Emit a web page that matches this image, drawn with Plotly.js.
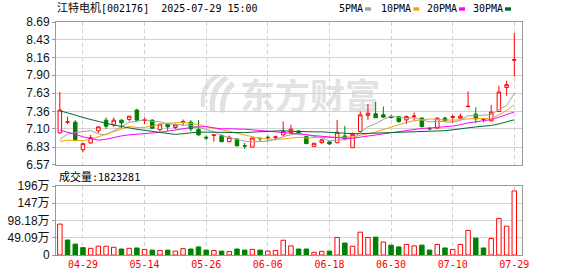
<!DOCTYPE html>
<html><head><meta charset="utf-8">
<script src="https://cdn.plot.ly/plotly-3.0.1.min.js"></script>
<style>html,body{margin:0;padding:0;background:#fff}#chart{width:578px;height:276px}</style>
</head><body><div id="chart"></div>
<script>
// ---------- data ----------
const stockName = '江特电机';
const stockCode = '002176';
const stamp = '2025-07-29 15:00';
const tickLabels = ['04-29','05-14','05-26','06-06','06-18','06-30','07-10','07-29'];
const tickIndex = [3, 11, 19, 27, 35, 43, 51, 59];
const priceTicks = [6.57, 6.83, 7.10, 7.36, 7.63, 7.90, 8.16, 8.43, 8.69];
const volTicks = [0, 49.09, 98.18, 147.27, 196.36];
const volTickText = ['0', '49.09万', '98.18万', '147万', '196万'];
const maPeriods = [5, 10, 20, 30];
const maNames = ['5PMA', '10PMA', '20PMA', '30PMA'];
// closes of the 29 sessions before the window (needed for the moving averages)
const priorClose = [8.02, 8.08, 7.96, 7.90, 8.00, 7.93, 7.98, 7.90, 7.88, 7.85,
  7.70, 7.62, 7.68, 7.55, 7.55, 6.85, 6.62, 6.80, 6.98, 7.10,
  7.05, 6.95, 6.90, 6.80, 6.75, 6.78, 6.85, 6.82, 6.87];
const open = [7.04, 7.20, 7.20, 6.79, 6.89, 7.07, 7.23, 7.16, 7.23, 7.24,
  7.38, 7.225, 7.23, 7.09, 7.17, 7.12, 7.20, 7.20, 7.09, 6.975,
  7.005, 7.00, 6.91, 6.95, 6.85, 6.83, 6.96, 6.975, 6.97, 7.01,
  7.045, 7.07, 6.985, 6.84, 6.895, 6.906, 6.895, 6.995, 6.82, 7.06,
  7.30, 7.324, 7.309, 7.285, 7.28, 7.234, 7.284, 7.26, 7.105, 7.11,
  7.26, 7.27, 7.26, 7.43, 7.319, 7.25, 7.22, 7.358, 7.716, 8.12];
const high = [7.65, 7.28, 7.23, 6.88, 7.01, 7.13, 7.27, 7.27, 7.24, 7.29,
  7.40, 7.27, 7.24, 7.17, 7.18, 7.18, 7.24, 7.23, 7.23, 7.00,
  7.02, 7.02, 7.00, 6.96, 6.89, 6.96, 6.97, 7.00, 7.00, 7.21,
  7.16, 7.08, 6.99, 6.89, 6.95, 6.92, 7.234, 7.145, 7.045, 7.36,
  7.468, 7.50, 7.433, 7.31, 7.29, 7.30, 7.343, 7.27, 7.13, 7.27,
  7.28, 7.31, 7.33, 7.657, 7.423, 7.26, 7.458, 7.742, 7.816, 8.528];
const low = [7.03, 7.17, 6.92, 6.75, 6.88, 7.04, 7.10, 7.13, 7.11, 7.21,
  7.20, 7.17, 7.10, 7.06, 7.07, 7.10, 7.145, 7.06, 7.00, 6.93,
  6.91, 6.90, 6.90, 6.835, 6.80, 6.83, 6.91, 6.92, 6.93, 7.00,
  7.025, 7.03, 6.88, 6.835, 6.88, 6.86, 6.885, 6.93, 6.82, 7.05,
  7.234, 7.265, 7.26, 7.25, 7.19, 7.174, 7.22, 7.12, 7.08, 7.11,
  7.21, 7.19, 7.245, 7.43, 7.185, 7.20, 7.215, 7.35, 7.592, 7.88];
const close = [7.38, 7.205, 6.94, 6.88, 6.97, 7.13, 7.14, 7.23, 7.19, 7.29,
  7.23, 7.235, 7.11, 7.17, 7.13, 7.16, 7.21, 7.10, 7.01, 6.965,
  7.01, 6.91, 6.975, 6.85, 6.845, 6.965, 6.955, 6.97, 6.98, 7.06,
  7.095, 7.036, 6.88, 6.886, 6.936, 6.876, 7.05, 6.95, 7.02, 7.309,
  7.334, 7.265, 7.275, 7.27, 7.209, 7.284, 7.29, 7.134, 7.10, 7.26,
  7.22, 7.28, 7.29, 7.436, 7.249, 7.244, 7.349, 7.648, 7.757, 8.13];
// volume in 万 (10,000) units
const volume = [88, 42.7, 31, 21, 19, 25, 25, 22, 17, 19,
  20, 16, 14, 13, 14, 11, 18, 17, 23, 14,
  13, 11, 10, 17, 14, 16, 14, 11, 13, 42,
  26, 17, 17, 7.6, 10.5, 11, 50, 34, 25, 65,
  50, 51, 37, 28, 23, 30, 26, 28, 14, 30,
  20, 16, 30, 70, 48, 20, 47, 104, 82, 182.3281];

// ---------- styling / layout ----------
const RED = '#ff0000', GREEN = '#008000';
const maColors = ['#a0a0a0', '#f2a30f', '#ff00ff', '#006a30'];
const W = 578, H = 276, L = 56, R = 56, T = 22, B = 21;
const plotW = W - L - R, plotH = H - T - B;
const px = v => (v - L) / plotW;
const py = v => (H - B - v) / plotH;

const idx = close.map((_, i) => i);
const allClose = priorClose.concat(close);
function movingAvg(n) {
  return close.map((_, i) => {
    const end = priorClose.length + i;
    let s = 0;
    for (let k = end - n + 1; k <= end; k++) s += allClose[k];
    return s / n;
  });
}
const prevClose = close.map((c, i) => i === 0 ? priorClose[priorClose.length - 1] : close[i - 1]);
const volUp = close.map((c, i) => c >= prevClose[i]);

const traces = [{
  type: 'candlestick', x: idx, open: open, high: high, low: low, close: close,
  xaxis: 'x', yaxis: 'y', whiskerwidth: 0,
  increasing: {line: {color: RED, width: 1}, fillcolor: '#ffffff'},
  decreasing: {line: {color: GREEN, width: 1}, fillcolor: GREEN},
  hoverinfo: 'skip', showlegend: false
}];
maPeriods.forEach((n, k) => traces.push({
  type: 'scatter', mode: 'lines', x: idx, y: movingAvg(n), xaxis: 'x', yaxis: 'y',
  line: {color: maColors[k], width: 1}, hoverinfo: 'skip', showlegend: false
}));
traces.push({
  type: 'bar', x: idx, y: volume, xaxis: 'x2', yaxis: 'y2', width: 0.58,
  marker: {color: volUp.map(u => u ? '#ffffff' : GREEN),
           line: {color: volUp.map(u => u ? RED : GREEN), width: 1}},
  hoverinfo: 'skip', showlegend: false
});

const gridCol = '#d2d2d2', frameCol = '#999999';
const yFont = {family: 'Liberation Sans, Noto Sans CJK SC', size: 12, color: '#111'};
const xCommon = {
  range: [-0.5, 60], tickmode: 'array', tickvals: tickIndex, ticks: '',
  showgrid: true, gridcolor: gridCol, gridwidth: 1, griddash: '4px,3px',
  showline: true, mirror: true, linecolor: frameCol, linewidth: 1,
  zeroline: false, fixedrange: true
};
const yCommon = {
  tickmode: 'array', ticks: 'outside', ticklen: 3, tickcolor: frameCol,
  showgrid: true, gridcolor: gridCol, gridwidth: 1,
  showline: true, mirror: true, linecolor: frameCol, linewidth: 1,
  zeroline: false, fixedrange: true, tickfont: yFont
};

const legendX = [338, 380, 425.7, 471.7];
const swatchX = [365, 413.3, 459, 505];
const annotations = [{
  xref: 'paper', yref: 'paper', x: px(55), y: py(8), xanchor: 'left', yanchor: 'middle',
  showarrow: false,
  text: '<span style="font-size:11px">' + stockName + '</span>[' + stockCode + ']\u00a0\u00a0' + stamp,
  font: {family: 'DejaVu Sans Mono, Noto Sans CJK SC', size: 10, color: '#000'}
}, {
  xref: 'paper', yref: 'paper', x: px(57), y: py(177), xanchor: 'left', yanchor: 'middle',
  showarrow: false,
  text: '<span style="font-size:11px">成交量</span>:' + Math.round(volume[volume.length - 1] * 10000),
  font: {family: 'DejaVu Sans Mono, Noto Sans CJK SC', size: 10, color: '#000'}
}];
const shapes = [];
maNames.forEach((nm, k) => {
  annotations.push({
    xref: 'paper', yref: 'paper', x: px(legendX[k] - 1), y: py(8.7), xanchor: 'left', yanchor: 'middle',
    showarrow: false, text: nm, font: {family: 'DejaVu Sans Mono', size: 10, color: '#000'}
  });
  shapes.push({
    type: 'rect', xref: 'paper', yref: 'paper', x0: px(swatchX[k]), x1: px(swatchX[k] + 6),
    y0: py(10.7), y1: py(7.3), fillcolor: maColors[k], line: {width: 0}
  });
});

const wmSvg = '<svg xmlns="http://www.w3.org/2000/svg" width="190" height="46" viewBox="0 0 190 46">' +
  '<g fill="#e2e2e5">' +
  '<path d="M22,3 C10,8 4,20 6,36 L10,36 C9,22 14,11 26,5 Z"/>' +
  '<path d="M30,5 C18,12 13,24 15,40 L20,40 C19,26 23,15 34,8 Z"/>' +
  '<path d="M37,10 C28,17 24,28 25,42 L30,41 C30,29 33,20 40,15 Z"/>' +
  '</g>' +
  '<text x="45" y="38" font-family="Noto Sans CJK SC" font-weight="700" font-size="35" fill="#e2e2e5">东方财富</text>' +
  '</svg>';

const layout = {
  width: W, height: H, margin: {l: L, r: R, t: T, b: B, pad: 0},
  paper_bgcolor: '#ffffff', plot_bgcolor: 'rgba(0,0,0,0)',
  showlegend: false, hovermode: false, dragmode: false, boxgap: 0.35,
  xaxis: Object.assign({}, xCommon, {anchor: 'y', showticklabels: false, rangeslider: {visible: false}}),
  xaxis2: Object.assign({}, xCommon, {anchor: 'y2', ticktext: tickLabels, showticklabels: true,
    tickfont: {family: 'DejaVu Sans Mono', size: 10, color: RED}}),
  yaxis: Object.assign({}, yCommon, {domain: [py(164.5), 1], anchor: 'x', range: [6.57, 8.69],
    tickvals: priceTicks, ticktext: priceTicks.map(v => v.toFixed(2))}),
  yaxis2: Object.assign({}, yCommon, {domain: [0, py(186)], anchor: 'x2', range: [0, 196.36],
    tickvals: volTicks, ticktext: volTickText}),
  annotations: annotations, shapes: shapes,
  images: [{
    source: 'data:image/svg+xml;charset=utf-8,' + encodeURIComponent(wmSvg),
    xref: 'paper', yref: 'paper', x: px(195), y: py(71), sizex: 190 / plotW, sizey: 46 / plotH,
    xanchor: 'left', yanchor: 'top', sizing: 'stretch', layer: 'below'
  }]
};
Plotly.newPlot('chart', traces, layout, {staticPlot: true, displayModeBar: false});
</script>
</body></html>
